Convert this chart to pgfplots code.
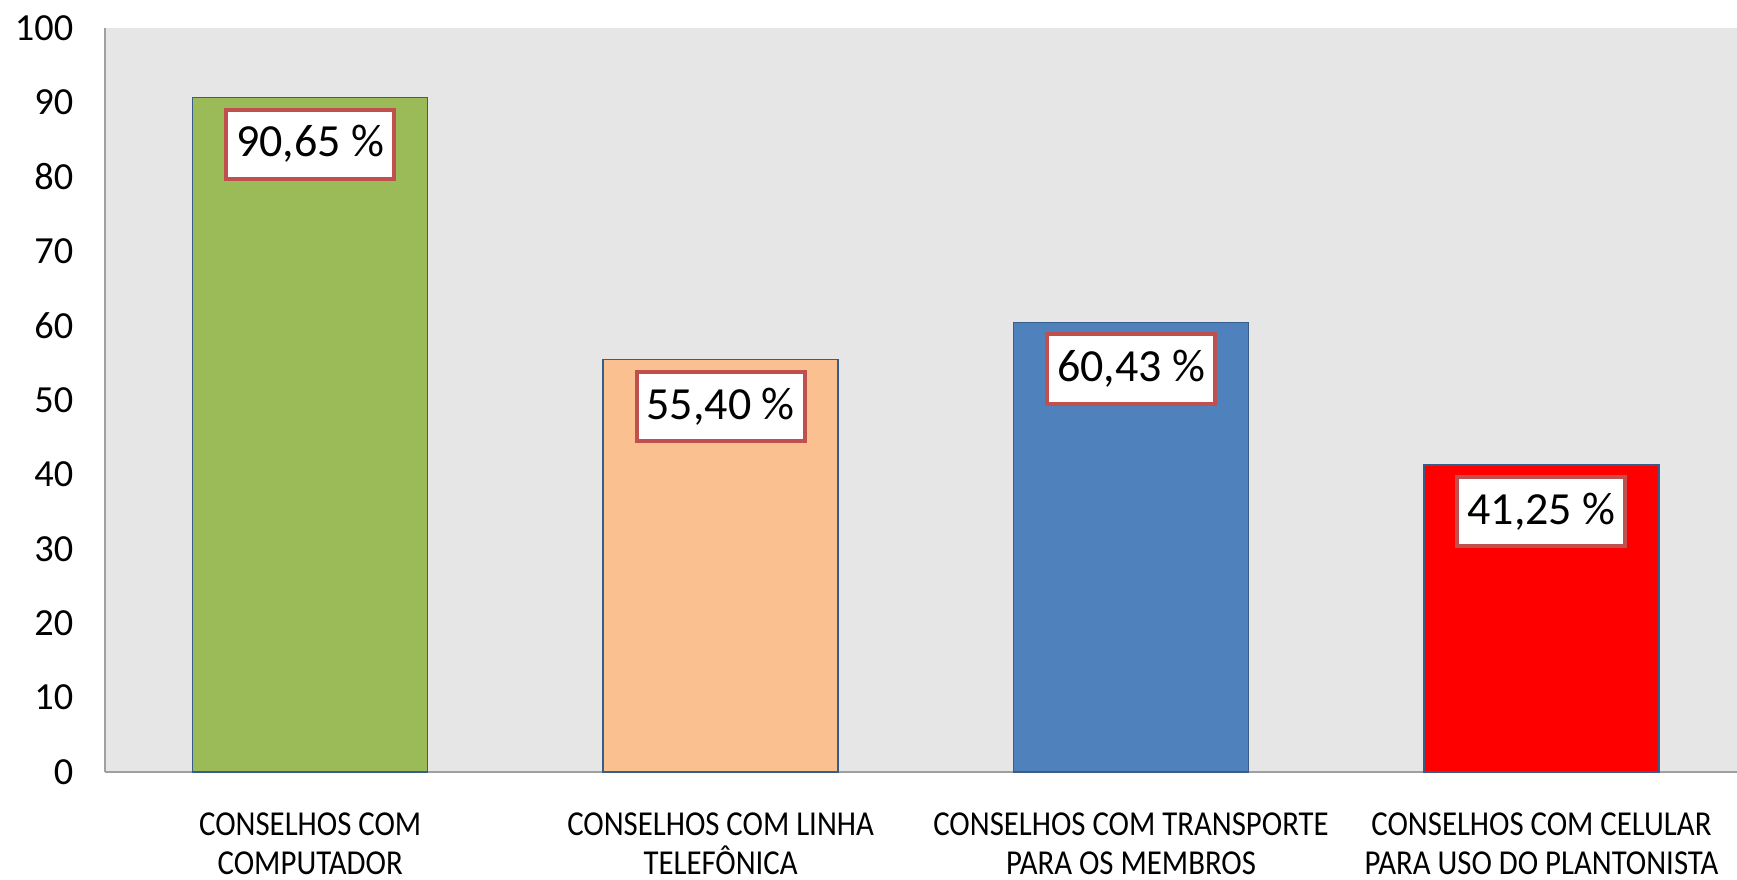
\documentclass[border=0pt]{standalone}
\usepackage{fontspec}
\setmainfont{Carlito}
\newfontfamily\narrowfont{Carlito}[FakeStretch=0.88]
\usepackage{pgfplots}
\pgfplotsset{compat=1.18}

\definecolor{bgray}{RGB}{230,230,230}
\definecolor{axgray}{RGB}{160,160,160}
\definecolor{barline}{RGB}{56,93,138}
\definecolor{cgreen}{RGB}{155,187,89}
\definecolor{cpeach}{RGB}{250,192,144}
\definecolor{cblue}{RGB}{79,129,189}
\definecolor{cred}{RGB}{255,0,0}
\definecolor{lblred}{RGB}{192,80,77}

\begin{document}
\begin{tikzpicture}
\useasboundingbox (-31.5pt,-32.4pt) rectangle (489.6pt,231.6pt);
\begin{axis}[
    at={(0,0)}, anchor=south west,
    scale only axis,
    width=492.5pt, height=223.2pt,
    xmin=-0.5, xmax=3.5,
    ymin=0, ymax=100,
    ytick={0,10,...,100},
    xtick={0,1,2,3},
    xticklabels={{CONSELHOS COM\\COMPUTADOR},{CONSELHOS COM LINHA\\TELEFÔNICA},{CONSELHOS COM TRANSPORTE\\PARA OS MEMBROS},{CONSELHOS COM CELULAR\\PARA USO DO PLANTONISTA}},
    xticklabel style={align=center, font=\narrowfont\fontsize{10.5}{11.7}\selectfont, yshift=-8.8pt},
    yticklabel style={font=\fontsize{11.5}{13}\selectfont, xshift=-6pt},
    /pgf/number format/assume math mode=true,
    major tick length=0pt,
    axis lines*=left,
    axis line style={-, draw=axgray, line width=0.8pt},
    axis background/.style={fill=bgray},
    clip=false,
    nodes near coords={\pgfmathprintnumber[fixed, fixed zerofill, precision=2, use comma]{\pgfplotspointmeta}~\%},
    nodes near coords style={anchor=north, yshift=-3pt, fill=white, draw=lblred, line width=1.2pt, inner xsep=3pt, inner ysep=4.8pt, font=\fontsize{13.8}{15}\selectfont, /pgf/number format/assume math mode=true},
]
\addplot[ybar, bar width=70.5pt, fill=cgreen, draw=barline, line width=0.4pt] coordinates {(0,90.65)};
\addplot[ybar, bar width=70.5pt, fill=cpeach, draw=barline, line width=0.4pt] coordinates {(1,55.40)};
\addplot[ybar, bar width=70.5pt, fill=cblue, draw=barline, line width=0.4pt] coordinates {(2,60.43)};
\addplot[ybar, bar width=70.5pt, fill=cred, draw=barline, line width=0.4pt] coordinates {(3,41.25)};
\end{axis}
\end{tikzpicture}
\end{document}
